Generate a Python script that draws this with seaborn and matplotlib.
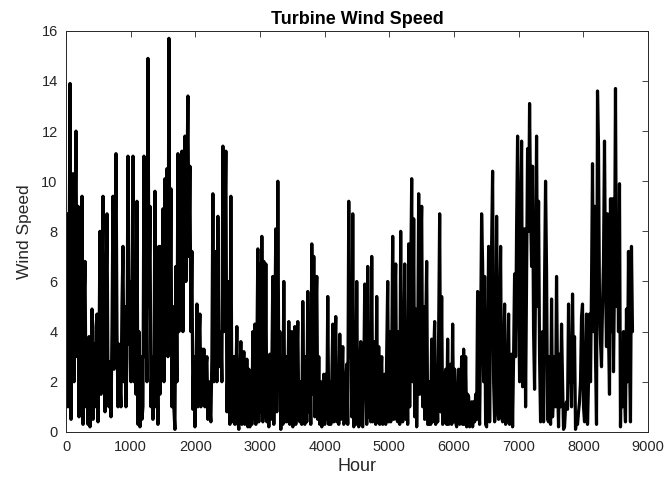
import numpy as np
import pandas as pd
import matplotlib
matplotlib.use("Agg")
import matplotlib.pyplot as plt
import seaborn as sns

# Turbine wind speed readings across the year, sampled at regular intervals
speed_jan_mar = [
    5.7, 8.7, 1.0, 6.0, 13.9, 0.5, 7.0, 10.3, 2.0, 8.5,
    12.0, 3.0, 9.0, 0.6, 6.5, 1.5, 9.4, 0.3, 5.0, 6.8,
    1.0, 3.0, 0.3, 3.8, 0.2, 2.5, 4.9, 0.5, 3.5, 1.0,
    4.2, 4.7, 0.4, 3.0, 8.0, 1.5, 6.0, 9.4, 3.0, 0.8,
    5.0, 8.7, 2.0, 1.0, 2.8, 0.6, 4.0, 9.4, 2.5, 7.0,
    11.1, 4.0, 1.0, 3.5, 2.0, 1.0, 5.0, 7.4, 2.0, 5.0,
    1.0, 3.0, 11.0, 3.5, 6.0, 2.0, 5.5, 11.0, 2.0, 6.5,
    1.5, 9.2, 0.3, 4.0, 0.2, 3.0, 0.5, 1.0, 11.0, 3.0,
    6.0, 2.0, 14.9, 5.0, 9.0, 1.0, 3.0, 0.5, 2.0, 9.6,
    1.0, 4.0, 0.3, 7.4, 1.5, 7.4, 3.0, 8.9, 2.0, 10.1,
    4.0, 10.5, 3.0, 15.7, 4.0, 9.7, 1.0, 5.0, 0.9, 0.1,
    6.6, 2.0, 11.1, 4.0, 9.0, 5.0, 11.2, 4.0, 8.0, 11.8,
    6.0, 10.0, 13.4, 7.0, 10.6, 4.0, 7.2, 0.9, 3.0, 0.2,
    2.0, 5.1, 1.0, 3.5, 4.7, 1.0, 3.3, 1.5, 3.3, 1.0,
]
speed_apr_jun = [
    2.5, 3.0, 0.5, 2.0, 0.9, 0.4, 3.0, 9.5, 2.0, 5.0,
    7.2, 2.0, 8.6, 3.0, 2.6, 4.0, 2.0, 11.4, 4.0, 8.0,
    11.2, 0.8, 2.6, 6.0, 0.3, 9.4, 1.0, 0.4, 3.0, 0.3,
    2.0, 4.2, 0.4, 0.1, 2.0, 3.6, 0.3, 2.0, 3.2, 0.3,
    0.4, 2.9, 0.2, 2.5, 0.2, 2.0, 0.3, 4.0, 0.5, 4.3,
    0.3, 3.0, 7.3, 0.4, 6.7, 0.8, 7.8, 0.4, 6.8, 0.6,
    6.7, 0.4, 3.0, 0.2, 3.1, 0.5, 2.5, 6.2, 0.3, 4.0,
    8.1, 0.8, 10.0, 2.0, 4.0, 0.1, 2.0, 0.3, 6.0, 0.4,
    3.0, 0.4, 2.0, 4.4, 0.3, 2.5, 4.0, 0.2, 2.0, 4.2,
    0.3, 2.5, 4.4, 0.5, 0.4, 2.0, 0.3, 5.2, 1.5, 0.3,
    3.0, 0.4, 5.6, 0.8, 4.0, 0.3, 7.5, 1.5, 7.0, 0.6,
    4.5, 6.2, 0.5, 3.0, 0.3, 2.0, 0.2, 1.5, 2.3, 0.3,
    2.3, 0.5, 5.4, 0.3, 2.0, 0.3, 2.0, 4.3, 0.4, 3.0,
    4.6, 0.4, 2.0, 0.3, 3.9, 0.5, 2.0, 3.4, 0.3, 0.4,
]
speed_jul_sep = [
    2.0, 2.7, 0.3, 9.2, 3.0, 6.0, 0.6, 8.7, 0.2, 2.0,
    0.3, 6.0, 0.5, 0.2, 2.5, 3.6, 0.3, 0.2, 2.0, 5.9,
    5.3, 0.3, 6.6, 0.6, 4.0, 0.4, 7.0, 0.4, 2.0, 3.6,
    0.3, 5.4, 0.4, 3.4, 0.3, 2.0, 3.0, 0.3, 1.5, 2.3,
    0.3, 3.0, 6.0, 0.4, 4.0, 0.4, 3.0, 7.8, 0.5, 5.0,
    6.7, 0.5, 0.4, 4.0, 0.3, 8.0, 0.8, 0.4, 3.0, 6.7,
    0.5, 4.0, 0.3, 7.5, 1.0, 6.0, 10.1, 2.0, 8.5, 0.6,
    4.9, 0.2, 3.0, 9.5, 1.5, 7.0, 9.0, 1.0, 5.0, 0.5,
    4.0, 6.8, 0.3, 0.3, 2.0, 0.3, 3.7, 0.4, 3.0, 4.4,
    0.3, 2.3, 0.4, 4.0, 8.7, 0.8, 5.4, 0.3, 0.4, 2.0,
    2.5, 0.3, 3.7, 0.3, 2.0, 2.7, 0.3, 4.3, 0.4, 2.5,
    0.4, 0.2, 1.5, 2.5, 0.3, 0.5, 3.0, 0.3, 3.3, 0.3,
    3.0, 0.2, 1.5, 1.4, 0.2, 1.0, 1.2, 0.2, 1.2, 0.4,
    1.5, 0.5, 5.6, 1.0, 0.3, 4.0, 8.7, 6.7, 2.0, 6.2,
]
speed_oct_dec = [
    0.3, 0.2, 3.0, 7.4, 0.4, 5.0, 7.4, 10.4, 2.0, 0.4,
    0.8, 8.6, 3.0, 0.5, 4.0, 7.4, 0.6, 0.4, 2.5, 5.1,
    0.3, 0.4, 2.0, 4.7, 0.3, 2.5, 3.1, 0.2, 3.0, 6.3,
    3.0, 8.1, 11.8, 6.0, 2.0, 8.0, 11.6, 1.8, 6.0, 8.1,
    1.0, 6.0, 11.3, 8.0, 13.1, 9.0, 6.6, 10.6, 4.0, 1.7,
    6.0, 11.8, 5.0, 9.2, 3.0, 0.4, 2.0, 4.0, 0.4, 6.0,
    10.0, 6.4, 0.5, 0.4, 3.0, 0.3, 5.3, 0.6, 1.6, 3.0,
    1.0, 6.2, 2.0, 0.2, 3.1, 1.0, 4.3, 2.0, 0.1, 0.2,
    1.0, 1.2, 0.9, 5.1, 2.0, 3.0, 1.0, 5.5, 2.0, 3.8,
    0.1, 0.5, 0.3, 0.8, 1.2, 2.0, 4.6, 5.1, 1.0, 0.4,
    2.0, 4.7, 0.3, 2.0, 4.7, 2.0, 5.8, 10.7, 4.0, 9.0,
    3.0, 0.3, 13.6, 11.4, 5.0, 3.6, 2.6, 5.0, 6.8, 11.6,
    6.0, 3.4, 8.7, 4.0, 1.5, 9.3, 4.0, 9.3, 2.4, 6.0,
    13.7, 5.0, 8.5, 4.0, 9.9, 0.2, 3.0, 1.0, 4.0, 1.5,
    0.4, 4.9, 2.0, 7.2, 3.0, 0.4, 7.4, 4.0,
]

hours_in_year = 8760
x_ticks = list(range(0, 9001, 1000))
y_ticks = list(range(0, 17, 2))

speed = np.array(speed_jan_mar + speed_apr_jun + speed_jul_sep + speed_oct_dec)
hour = np.linspace(0, hours_in_year, len(speed))
df = pd.DataFrame({"Hour": hour, "Wind Speed": speed})

sns.set_style("white")
plt.rcParams["font.family"] = ["Liberation Sans", "DejaVu Sans"]

fig = plt.figure(figsize=(6.67, 4.82), dpi=100)
ax = fig.add_axes([0.099, 0.104, 0.8725, 0.832])

sns.lineplot(data=df, x="Hour", y="Wind Speed", color="black",
             linewidth=2.3, ax=ax, estimator=None, sort=False)

ax.set_xlim(0, 9000)
ax.set_ylim(0, 16)
ax.set_xticks(x_ticks)
ax.set_yticks(y_ticks)
ax.tick_params(direction="in", length=4, width=0.6, top=True, right=True,
               labelsize=10.5, colors="#262626", pad=6)
for side in ax.spines.values():
    side.set_linewidth(0.7)
    side.set_color("#262626")

ax.set_title("Turbine Wind Speed", fontsize=13, fontweight="bold",
             color="black", pad=5)
ax.set_xlabel("Hour", fontsize=13, color="#262626", labelpad=3)
ax.set_ylabel("Wind Speed", fontsize=12.5, color="#262626", labelpad=7)

fig.savefig("out.png", dpi=100, facecolor="white")
